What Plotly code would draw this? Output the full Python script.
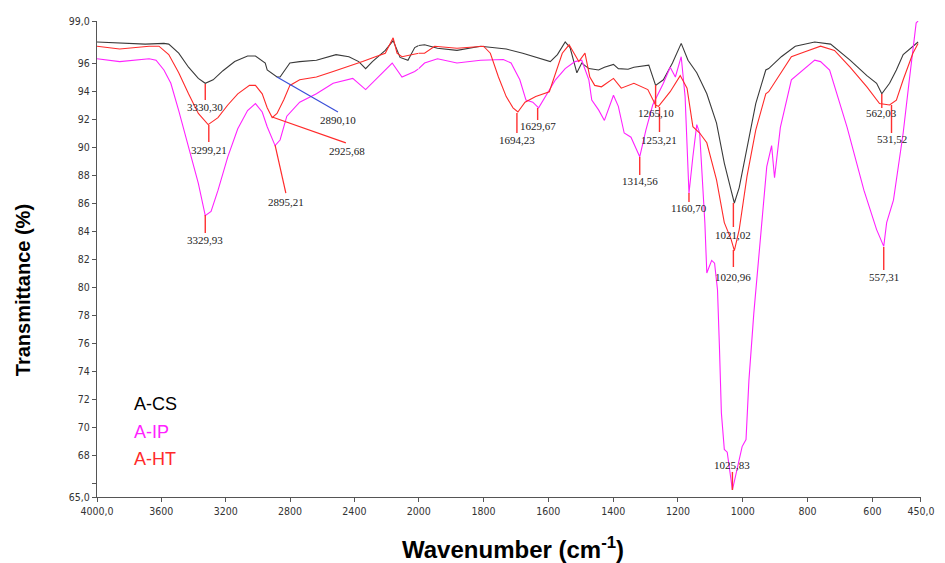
import plotly.graph_objects as go

# ---------------- data (wavenumber cm-1, transmittance %) ----------------
cs_wn = [4000, 3798, 3700, 3584, 3554, 3492, 3431, 3370, 3327, 3278, 3217, 3144, 3064, 3015,
         2954, 2942, 2881, 2862, 2801, 2740, 2636, 2514, 2434, 2373, 2330, 2288, 2208, 2159,
         2116, 2067, 2025, 2000, 1982, 1942, 1882, 1809, 1730, 1679, 1594, 1572, 1548, 1533,
         1512, 1497, 1475, 1445, 1427, 1399, 1384, 1354, 1336, 1290, 1269, 1245, 1217, 1190,
         1169, 1142, 1111, 1081, 1057, 1036, 1026, 1011, 987, 960, 929, 920, 881, 838, 778,
         729, 669, 617, 587, 571, 547, 526, 505, 475, 459]
cs_t = [97.5, 97.4, 97.35, 97.4, 97.35, 96.7, 95.7, 94.9, 94.55, 94.8, 95.45, 96.1, 96.5, 96.5,
        96.0, 95.5, 95.0, 95.0, 96.0, 96.1, 96.2, 96.6, 96.45, 96.1, 95.6, 96.1, 96.9, 97.6,
        96.4, 96.2, 97.1, 97.25, 97.3, 97.05, 96.9, 97.2, 97.0, 96.7, 96.1, 96.6, 97.5, 97.1,
        95.3, 96.0, 95.6, 95.5, 95.7, 95.9, 95.6, 95.55, 95.7, 95.85, 94.4, 94.8, 96.0, 97.4,
        96.2, 95.3, 93.8, 91.7, 88.85, 86.9, 86.0, 87.1, 90.0, 93.1, 95.5, 95.6, 96.45, 97.2, 97.5,
        97.35, 96.2, 95.1, 94.55, 93.8, 94.55, 95.5, 96.6, 97.2, 97.5]

ht_wn = [4000, 3859, 3676, 3615, 3554, 3492, 3431, 3370, 3309, 3248, 3187, 3125, 3052, 3015,
         2973, 2942, 2911, 2881, 2838, 2801, 2740, 2636, 2532, 2410, 2349, 2269, 2208, 2159,
         2135, 2104, 2043, 2000, 1982, 1951, 1882, 1800, 1779, 1754, 1730, 1709, 1694, 1672,
         1639, 1597, 1578, 1557, 1536, 1521, 1506, 1487, 1472, 1457, 1436, 1399, 1375, 1336,
         1293, 1269, 1260, 1224, 1193, 1172, 1154, 1133, 1111, 1081, 1057, 1036, 1026, 1011,
         987, 960, 929, 920, 881, 850, 808, 760, 717, 669, 617, 578, 547, 526, 505, 475, 459]
ht_t = [97.2, 97.0, 97.2, 97.2, 96.6, 95.3, 93.8, 92.4, 91.6, 92.1, 93.0, 93.8, 94.4, 94.4,
        93.8, 92.8, 92.1, 92.4, 93.4, 94.4, 94.8, 95.0, 95.4, 95.85, 96.1, 96.45, 96.7, 97.8,
        96.7, 96.45, 96.6, 96.7, 96.7, 97.2, 97.05, 97.2, 96.7, 95.0, 93.6, 92.8, 92.5, 93.2,
        93.6, 93.95, 95.3, 96.7, 97.3, 96.7, 96.1, 96.7, 95.0, 94.4, 94.3, 94.9, 94.2, 94.55,
        94.1, 93.0, 92.9, 93.95, 95.1, 94.2, 91.45, 91.0, 90.3, 87.65, 84.6, 83.4, 82.6, 84.1,
        87.9, 91.2, 93.8, 93.95, 95.3, 96.45, 96.8, 97.2, 96.9, 95.7, 94.3, 93.1, 93.0, 93.35,
        94.8, 96.7, 97.4]

ip_wn = [4000, 3859, 3676, 3633, 3584, 3541, 3492, 3431, 3370, 3327, 3291, 3248, 3187, 3125,
         3064, 3015, 2973, 2942, 2893, 2862, 2820, 2740, 2636, 2532, 2410, 2330, 2269, 2165,
         2104, 2025, 2000, 1982, 1942, 1882, 1809, 1739, 1715, 1688, 1669, 1648, 1630, 1609,
         1578, 1548, 1518, 1497, 1475, 1466, 1445, 1427, 1399, 1384, 1366, 1345, 1318, 1299,
         1278, 1245, 1224, 1208, 1190, 1178, 1166, 1154, 1142, 1133, 1117, 1111, 1096, 1087,
         1078, 1072, 1066, 1057, 1048, 1032, 1020, 1002, 990, 981, 966, 957, 926, 911, 902,
         884, 850, 778, 760, 732, 678, 626, 587, 565, 556, 535, 505, 487, 465, 459]
ip_t = [96.3, 96.1, 96.3, 96.2, 95.5, 94.55, 92.6, 90.0, 87.4, 85.1, 85.4, 86.9, 89.3, 91.3,
        92.6, 93.1, 92.5, 91.45, 90.1, 90.5, 92.2, 93.2, 93.8, 94.55, 94.9, 94.1, 94.8, 96.0,
        95.0, 95.4, 95.6, 96.0, 96.3, 96.0, 96.2, 96.25, 96.0, 94.8, 93.35, 93.2, 92.8, 93.6,
        94.8, 95.6, 96.1, 96.2, 94.8, 93.35, 92.65, 91.9, 93.7, 92.9, 91.0, 90.7, 89.3, 91.2,
        93.0, 94.55, 95.7, 95.0, 96.45, 93.6, 86.7, 89.3, 91.6, 91.0, 84.6, 81.0, 81.9, 81.7,
        79.8, 75.7, 71.0, 68.4, 68.2, 65.5, 66.7, 68.6, 69.1, 73.35, 78.1, 80.5, 88.6, 90.1, 87.8,
        91.4, 94.8, 96.2, 96.1, 95.5, 91.4, 86.9, 84.1, 82.9, 84.6, 86.2, 91.0, 94.6, 98.85, 99.0]

series_names = ["A-CS", "A-IP", "A-HT"]
series_colors = ["#3a3a3a", "#ff22ff", "#ff2a2a"]

x_left_ticks = [4000, 3600, 3200, 2800, 2400]
x_left_text = ["4000,0", "3600", "3200", "2800", "2400"]
x_right_ticks = [2000, 1800, 1600, 1400, 1200, 1000, 800, 600, 450]
x_right_text = ["2000", "1800", "1600", "1400", "1200", "1000", "800", "600", "450,0"]
y_ticks = [65, 68, 70, 72, 74, 76, 78, 80, 82, 84, 86, 88, 90, 92, 94, 96, 99]
y_text = ["65,0", "68", "70", "72", "74", "76", "78", "80", "82", "84", "86", "88", "90",
          "92", "94", "96", "99,0"]
y_minor_ticks = [66]

# peak markers: label, wavenumber, line top T, line bottom T, label T
peak_labels = ["3330,30", "3299,21", "3329,93", "2895,21", "1694,23", "1629,67", "1314,56",
               "1265,10", "1253,21", "1160,70", "1021,02", "1020,96", "1025,83", "562,03",
               "531,52", "557,31"]
peak_wn = [3327, 3305, 3327, 2893, 1697, 1633, 1318, 1269, 1257, 1166, 1029, 1029, 1032, 571,
           541, 565]
peak_top = [94.5, 91.57, 85.14, 90.14, 92.43, 92.79, 89.29, 94.43, 92.86, 86.71, 86.0, 82.64,
            66.79, 93.79, 93.0, 82.86]
peak_bot = [93.36, 90.36, 83.86, 86.7, 91.0, 91.93, 88.0, 92.79, 91.07, 86.07, 84.29, 81.43,
            65.5, 92.79, 91.0, 81.21]
peak_label_t = [92.86, 89.8, 83.36, 86.07, 90.5, 91.5, 87.57, 92.43, 90.5, 85.64, 83.71,
                80.71, 67.29, 92.43, 90.57, 80.71]
peak_label_wn = [3327, 3305, 3327, 2826, 1697, 1633, 1318, 1269, 1260, 1166, 1029, 1029, 1032,
                 571, 541, 565]

# diagonal leader labels: label, start (wn, T), end (wn, T), label (wn, T), colour
diag_labels = ["2890,10", "2925,68"]
diag_start = [(2881, 95.0), (2911, 92.14)]
diag_end = [(2502, 92.5), (2453, 90.29)]
diag_label_pos = [(2502, 91.93), (2443, 89.7)]
diag_colors = ["#3a4fd8", "#ff2a2a"]


def xr(w):
    return "x" if w >= 2000 else "x2"


fig = go.Figure()
for wn, t, name, col in zip([cs_wn, ip_wn, ht_wn], [cs_t, ip_t, ht_t], series_names, series_colors):
    lw = [w for w in wn if w >= 2000]
    lt = [v for w, v in zip(wn, t) if w >= 2000]
    rw = [w for w in wn if w <= 2000]
    rt = [v for w, v in zip(wn, t) if w <= 2000]
    fig.add_trace(go.Scatter(x=lw, y=lt, mode="lines", line=dict(color=col, width=1.1),
                             name=name, showlegend=False, xaxis="x", yaxis="y"))
    fig.add_trace(go.Scatter(x=rw, y=rt, mode="lines", line=dict(color=col, width=1.1),
                             name=name, showlegend=False, xaxis="x2", yaxis="y"))

shapes = []
annotations = []
lab_font = dict(family="Liberation Serif, Times New Roman, serif", size=11, color="#222222")
for lab, w, t0, t1, tl, wl in zip(peak_labels, peak_wn, peak_top, peak_bot, peak_label_t, peak_label_wn):
    if lab == "2895,21":
        shapes.append(dict(type="line", xref="x", yref="y", x0=w, x1=wl, y0=t0, y1=t1,
                           line=dict(color="#ff2a2a", width=1.2)))
    else:
        shapes.append(dict(type="line", xref=xr(w), yref="y", x0=w, x1=w, y0=t0, y1=t1,
                           line=dict(color="#ff3030", width=1.4)))
    annotations.append(dict(text=lab, xref=xr(wl), yref="y", x=wl, y=tl, showarrow=False,
                            font=lab_font, xanchor="center", yanchor="middle"))
for lab, s, e, p, c in zip(diag_labels, diag_start, diag_end, diag_label_pos, diag_colors):
    shapes.append(dict(type="line", xref="x", yref="y", x0=s[0], y0=s[1], x1=e[0], y1=e[1],
                       line=dict(color=c, width=1.2)))
    annotations.append(dict(text=lab, xref="x", yref="y", x=p[0], y=p[1], showarrow=False,
                            font=lab_font, xanchor="center", yanchor="middle"))

# legend as coloured text
for i, (name, col) in enumerate(zip(series_names, series_colors)):
    annotations.append(dict(text=name, xref="paper", yref="paper", x=(133 - 97) / 837.5,
                            y=(497 - (404 + 27.5 * i)) / 476, xanchor="left", yanchor="middle",
                            showarrow=False,
                            font=dict(family="Liberation Sans, Arial, sans-serif", size=18,
                                      color="#000000" if i == 0 else col)))

annotations.append(dict(text="<b>Transmittance (%)</b>", xref="paper", yref="paper",
                        x=(22 - 97) / 837.5, y=(497 - 290) / 476, textangle=-90, showarrow=False,
                        xanchor="center", yanchor="middle",
                        font=dict(family="Liberation Sans, Arial, sans-serif", size=20, color="#000")))
annotations.append(dict(text="<b>Wavenumber (cm<sup>-1</sup>)</b>", xref="paper", yref="paper",
                        x=(520 - 97) / 837.5, y=(497 - 548) / 476, showarrow=False,
                        xanchor="center", yanchor="middle",
                        font=dict(family="Liberation Sans, Arial, sans-serif", size=24, color="#000")))

tick_font = dict(family="Liberation Sans Narrow, DejaVu Sans Condensed, Arial Narrow, sans-serif",
                 size=10.5, color="#333333")
split = 327 / 837.5
axis_common = dict(showgrid=False, zeroline=False, showline=True, linecolor="#555555",
                   linewidth=1.3, ticks="outside", ticklen=4, tickcolor="#555555",
                   tickfont=tick_font, ticklabeloverflow="allow")
fig.update_layout(
    width=945, height=563,
    margin=dict(l=97, r=10.5, t=21, b=66),
    paper_bgcolor="white", plot_bgcolor="white",
    showlegend=False,
    xaxis=dict(domain=[0, split], range=[4000, 2000], tickvals=x_left_ticks,
               ticktext=x_left_text, anchor="y", **axis_common),
    xaxis2=dict(domain=[split, 1], range=[2000, 450], tickvals=x_right_ticks,
                ticktext=x_right_text, anchor="y", **axis_common),
    yaxis=dict(range=[65, 99], tickvals=y_ticks, ticktext=y_text, anchor="x",
               minor=dict(tickvals=y_minor_ticks, ticks="outside", ticklen=4,
                          tickcolor="#555555", showgrid=False),
               **axis_common),
    shapes=shapes,
    annotations=annotations,
)

fig.write_html("out.html", config={"displayModeBar": False},
               post_script="document.body.style.margin='0';document.body.style.overflow='hidden';")
